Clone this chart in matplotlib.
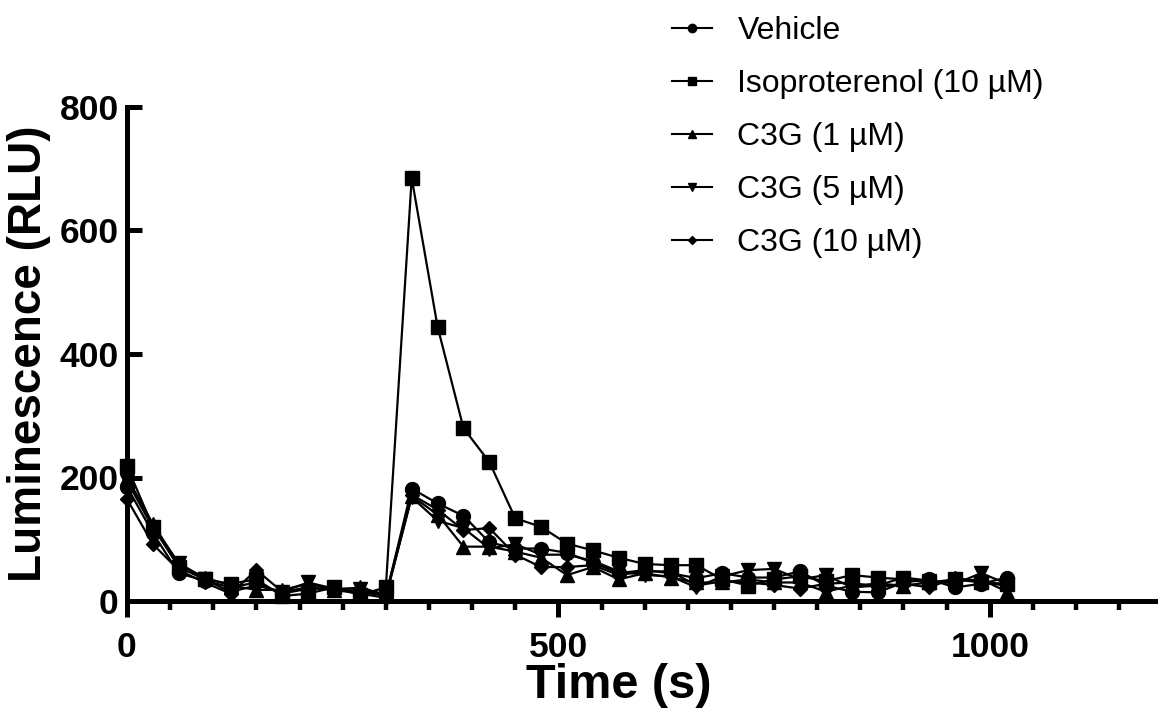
import numpy as np
import matplotlib.pyplot as plt
from matplotlib.lines import Line2D
from matplotlib.ticker import MultipleLocator

plt.rcParams['font.family'] = ['Liberation Sans', 'DejaVu Sans']

# time points (s)
time = np.arange(0, 1021, 30)

vehicle = [185, 110, 45, 33, 22, 30, 12, 20, 20, 15, 8, 182, 158, 138, 95, 85, 85, 78,
           62, 45, 50, 45, 37, 45, 38, 38, 48, 25, 15, 14, 30, 35, 22, 28, 38]
isoproterenol = [218, 120, 55, 35, 28, 35, 8, 12, 22, 10, 22, 685, 444, 280, 225, 134, 120, 93,
                 82, 70, 60, 58, 58, 35, 25, 35, 40, 32, 42, 38, 35, 30, 35, 30, 28]
c3g_1 = [200, 125, 60, 38, 25, 18, 18, 28, 18, 22, 10, 170, 140, 88, 88, 80, 70, 42,
         55, 35, 45, 38, 30, 30, 35, 30, 30, 15, 25, 28, 25, 30, 32, 35, 15]
c3g_5 = [195, 118, 62, 35, 15, 25, 15, 30, 20, 20, 8, 168, 130, 118, 85, 92, 75, 75,
         65, 48, 42, 40, 22, 40, 50, 52, 35, 42, 22, 25, 38, 33, 28, 45, 28]
c3g_10 = [165, 92, 50, 30, 12, 50, 15, 22, 18, 12, 5, 172, 148, 115, 118, 75, 55, 55,
          58, 42, 48, 48, 25, 32, 30, 26, 20, 28, 30, 22, 28, 22, 38, 30, 25]

labels = ['Vehicle', 'Isoproterenol (10 µM)', 'C3G (1 µM)', 'C3G (5 µM)', 'C3G (10 µM)']
series = [vehicle, isoproterenol, c3g_1, c3g_5, c3g_10]
markers = ['o', 's', '^', 'v', 'D']
msizes = [10, 9.5, 10, 10, 7.5]

fig = plt.figure(figsize=(11.58, 7.24), dpi=100)
ax = fig.add_axes([127 / 1158, 1 - 601 / 724, 1 - 127 / 1158, (601 - 107) / 724])

for vals, m, ms in zip(series, markers, msizes):
    ax.plot(time, vals, color='black', lw=1.6, marker=m, ms=ms, clip_on=False, zorder=3)

ax.set_xlim(0, 1195)
ax.set_ylim(0, 800)
ax.set_xticks([0, 500, 1000])
ax.xaxis.set_minor_locator(MultipleLocator(50))
ax.set_yticks([0, 200, 400, 600, 800])

for s in ['top', 'right']:
    ax.spines[s].set_visible(False)
for s in ['left', 'bottom']:
    ax.spines[s].set_linewidth(3.6)

ax.tick_params(axis='x', which='major', direction='out', length=11.5, width=3.6,
               labelsize=25.5, pad=10)
ax.tick_params(axis='x', which='minor', direction='out', length=6.5, width=3.2)
ax.tick_params(axis='y', which='major', direction='in', length=11, width=3.6,
               labelsize=25.5, pad=6)
for lab in ax.get_xticklabels() + ax.get_yticklabels():
    lab.set_fontweight('bold')

ax.set_xlabel('Time (s)', fontsize=35, fontweight='bold')
ax.xaxis.set_label_coords((619 - 127) / 1031, -0.125)
ax.set_ylabel('Luminescence (RLU)', fontsize=33, fontweight='bold', labelpad=6)

handles = [Line2D([], [], color='black', lw=1.5, marker=m, ms=ms * 0.6)
           for m, ms in zip(markers, msizes)]
fig.legend(handles, labels, loc='upper left', bbox_to_anchor=(672 / 1158, 1 - 16 / 724),
           frameon=False, fontsize=23, handlelength=1.25, handletextpad=0.8,
           borderpad=0, borderaxespad=0, labelspacing=0.72)

fig.savefig('out.png', dpi=100)
